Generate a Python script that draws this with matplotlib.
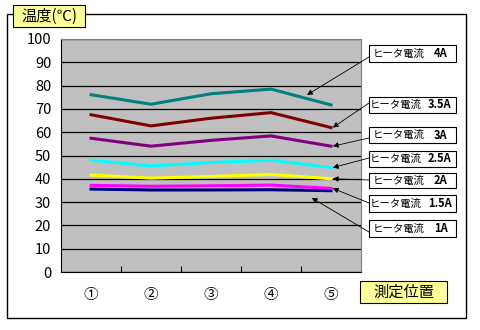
import matplotlib.pyplot as plt
from matplotlib.patches import Rectangle

plt.rcParams['font.family'] = ['Noto Sans CJK JP', 'DejaVu Sans']

# measurement positions
positions = ['①', '②', '③', '④', '⑤']

# heater current labels (bottom to top)
currents = ['1A', '1.5A', '2A', '2.5A', '3A', '3.5A', '4A']

# temperatures for each current
temp_1a = [35.6, 35.2, 35.2, 35.3, 34.9]
temp_15a = [37.2, 36.8, 37.0, 37.3, 35.9]
temp_2a = [41.6, 40.3, 41.0, 41.9, 40.0]
temp_25a = [48.0, 45.5, 47.0, 48.0, 44.8]
temp_3a = [57.4, 54.0, 56.5, 58.4, 54.0]
temp_35a = [67.5, 62.7, 66.0, 68.4, 62.0]
temp_4a = [76.1, 72.0, 76.5, 78.5, 71.7]

series = [temp_1a, temp_15a, temp_2a, temp_25a, temp_3a, temp_35a, temp_4a]
colors = ['#000080', '#FF00FF', '#FFFF00', '#00FFFF', '#800080', '#800000', '#008080']

W, H = 480, 330
fig = plt.figure(figsize=(4.8, 3.3), dpi=100)

def fx(px):
    return px / W

def fy(py):
    return 1 - py / H

def box(x0, y0, x1, y1, fc):
    fig.patches.append(Rectangle((fx(x0), fy(y1)), fx(x1 - x0), (y1 - y0) / H,
                                 transform=fig.transFigure, fc=fc, ec='black', lw=0.8))

# outer frame
fig.patches.append(Rectangle((fx(7), fy(318)), fx(459), 304 / H, transform=fig.transFigure,
                             fill=False, edgecolor='black', lw=1.0))

ax = fig.add_axes([fx(61), fy(272), fx(300), 233 / H])
ax.set_facecolor('#C0C0C0')
x = list(range(len(positions)))
for vals, c in zip(series, colors):
    ax.plot(x, vals, color=c, lw=2.2, zorder=3)

ax.set_xlim(-0.5, 4.5)
ax.set_ylim(0, 100)
ax.set_yticks(range(0, 101, 10))
ax.yaxis.grid(True, color='black', lw=0.9)
ax.set_axisbelow(True)
ax.set_xticks([i + 0.5 for i in range(4)])
ax.set_xticklabels([])
ax.tick_params(axis='x', direction='in', length=4, width=0.8)
ax.tick_params(axis='y', length=0, labelsize=10.5, pad=7)
for i, p in enumerate(positions):
    ax.text(i, -10, p, ha='center', va='center', fontsize=10.5)
ax.spines['left'].set_color('black')
ax.spines['bottom'].set_color('black')
ax.spines['top'].set_color('#808080')
ax.spines['right'].set_color('#808080')

# title box and axis label box
box(13, 5, 85, 27, '#FFFF99')
fig.text(fx(49), fy(16), '温度(℃)', ha='center', va='center', fontsize=11)
box(360, 281, 447, 303, '#FFFF99')
fig.text(fx(403.5), fy(292), '測定位置', ha='center', va='center', fontsize=11)

# label boxes: (top, bottom) in pixels, arrow start y, arrow tip (x, y) in data
box_y = [(220, 237), (195, 212), (173, 188), (151, 167), (127, 143), (97, 113), (45, 62)]
start_y = [232, 203, 180, 158, 138, 103, 57]
tips = [(3.68, 31.8), (4.03, 35.9), (4.03, 40.0), (4.03, 44.8), (4.03, 54.0), (4.03, 62.0), (3.6, 76.0)]

for cur, (t, b), sy, tip in zip(currents, box_y, start_y, tips):
    box(369, t, 456, b, 'white')
    yc = fy((t + b) / 2)
    short = len(cur) <= 2
    fig.text(fx(425 if short else 422), yc, 'ヒータ電流', ha='right', va='center', fontsize=7.5)
    fig.text(fx(434 if short else 428), yc, cur, ha='left', va='center', fontsize=8, fontweight='bold')
    ax.annotate('', xy=tip, xycoords='data', xytext=(fx(369), fy(sy)), textcoords='figure fraction',
                arrowprops=dict(arrowstyle='-|>', color='black', lw=0.6, mutation_scale=8,
                                shrinkA=0, shrinkB=0))

fig.savefig('out.png', dpi=100)
